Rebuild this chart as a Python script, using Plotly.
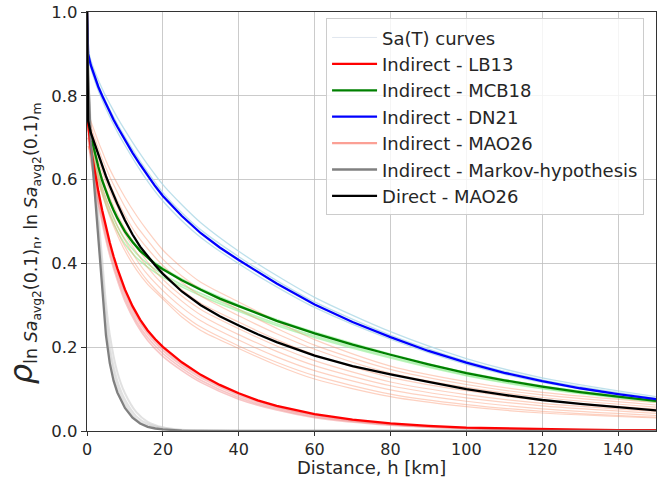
import plotly.graph_objects as go

# Separation distance grid (km) for the model curves
H = [0, 0.3, 1, 2, 3, 4, 5, 6, 7, 8, 10, 12, 14, 16, 18, 20, 25, 30, 35, 40,
     45, 50, 60, 70, 80, 90, 100, 110, 120, 130, 140, 150]

# Correlation models (period-averaged)
LB13 = [1.0, 0.73, 0.675, 0.622, 0.572, 0.527, 0.486, 0.45, 0.417, 0.388, 0.338, 0.298,
        0.266, 0.24, 0.219, 0.201, 0.164, 0.134, 0.11, 0.09, 0.073, 0.06, 0.04,
        0.027, 0.018, 0.012, 0.008, 0.006, 0.004, 0.003, 0.002, 0.002]
MCB18 = [1.0, 0.75, 0.705, 0.665, 0.63, 0.598, 0.572, 0.548, 0.527, 0.508, 0.476, 0.451,
         0.43, 0.413, 0.398, 0.386, 0.36, 0.337, 0.316, 0.298, 0.28, 0.263, 0.233,
         0.206, 0.182, 0.159, 0.138, 0.121, 0.106, 0.093, 0.082, 0.072]
DN21 = [1.0, 0.90, 0.873, 0.845, 0.821, 0.80, 0.78, 0.761, 0.743, 0.726, 0.694, 0.664,
        0.636, 0.609, 0.584, 0.561, 0.513, 0.472, 0.438, 0.408, 0.379, 0.352, 0.302,
        0.26, 0.224, 0.191, 0.163, 0.139, 0.119, 0.102, 0.088, 0.076]
MARKOV = [1.0, 0.85, 0.69, 0.57, 0.455, 0.34, 0.228, 0.162, 0.12, 0.092, 0.055, 0.032,
          0.018, 0.010, 0.006, 0.004, 0.001, 0, 0, 0, 0, 0, 0, 0, 0, 0, 0, 0, 0, 0, 0, 0]
DIRECT_MAO26 = [1.0, 0.74, 0.712, 0.685, 0.659, 0.633, 0.608, 0.585, 0.563, 0.542, 0.503,
                0.469, 0.44, 0.417, 0.395, 0.375, 0.333, 0.30, 0.274, 0.252, 0.231, 0.212,
                0.18, 0.155, 0.135, 0.117, 0.100, 0.086, 0.074, 0.065, 0.057, 0.049]

# Distance grid for the individual Sa(T) curves
H_SA = [0.3, 1, 2, 3, 4, 5, 6, 8, 10, 13, 16, 20, 25, 30, 40, 50, 60, 80, 100, 120, 150]

SA_DN21 = [
    [0.91, 0.885, 0.859, 0.837, 0.817, 0.798, 0.781, 0.748, 0.718, 0.675, 0.636, 0.588,
     0.54, 0.497, 0.429, 0.371, 0.319, 0.237, 0.173, 0.127, 0.082],
    [0.90, 0.876, 0.849, 0.826, 0.805, 0.786, 0.767, 0.733, 0.702, 0.658, 0.618, 0.569,
     0.521, 0.48, 0.416, 0.359, 0.308, 0.229, 0.167, 0.122, 0.078],
    [0.895, 0.866, 0.837, 0.812, 0.79, 0.769, 0.75, 0.714, 0.682, 0.637, 0.596, 0.549,
     0.502, 0.462, 0.399, 0.344, 0.295, 0.219, 0.159, 0.116, 0.074],
]
SA_MCB18 = [
    [0.74, 0.69, 0.648, 0.612, 0.58, 0.553, 0.529, 0.489, 0.458, 0.424, 0.399, 0.374, 0.349,
     0.328, 0.29, 0.256, 0.227, 0.177, 0.134, 0.103, 0.07],
    [0.73, 0.682, 0.638, 0.601, 0.568, 0.54, 0.516, 0.477, 0.446, 0.414, 0.391, 0.367,
     0.344, 0.323, 0.286, 0.252, 0.223, 0.174, 0.132, 0.101, 0.069],
    [0.755, 0.71, 0.668, 0.633, 0.601, 0.575, 0.551, 0.511, 0.479, 0.443, 0.416, 0.389,
     0.363, 0.34, 0.301, 0.266, 0.236, 0.184, 0.14, 0.108, 0.073],
]
SA_LB13 = [
    [0.72, 0.663, 0.61, 0.56, 0.515, 0.474, 0.438, 0.377, 0.327, 0.271, 0.231, 0.192, 0.156,
     0.127, 0.085, 0.056, 0.037, 0.016, 0.007, 0.003, 0.001],
    [0.71, 0.654, 0.601, 0.55, 0.505, 0.464, 0.428, 0.368, 0.318, 0.263, 0.223, 0.185, 0.15,
     0.121, 0.08, 0.053, 0.034, 0.015, 0.006, 0.003, 0.001],
    [0.725, 0.669, 0.617, 0.567, 0.522, 0.481, 0.445, 0.383, 0.333, 0.277, 0.236, 0.197,
     0.16, 0.131, 0.088, 0.058, 0.038, 0.017, 0.007, 0.004, 0.002],
    [0.70, 0.645, 0.592, 0.541, 0.496, 0.455, 0.419, 0.36, 0.31, 0.256, 0.216, 0.178, 0.144,
     0.116, 0.076, 0.05, 0.032, 0.014, 0.006, 0.003, 0.001],
]
SA_MARKOV = [
    [0.86, 0.71, 0.60, 0.49, 0.38, 0.275, 0.20, 0.12, 0.075, 0.035, 0.017, 0.007, 0.002,
     0.001, 0, 0, 0, 0, 0, 0, 0],
    [0.87, 0.73, 0.62, 0.515, 0.41, 0.305, 0.23, 0.14, 0.09, 0.045, 0.022, 0.009, 0.003,
     0.001, 0, 0, 0, 0, 0, 0, 0],
    [0.85, 0.70, 0.585, 0.47, 0.36, 0.25, 0.182, 0.106, 0.065, 0.028, 0.013, 0.005, 0.001,
     0, 0, 0, 0, 0, 0, 0, 0],
]
INDIRECT_MAO26 = [
    [0.76, 0.74, 0.715, 0.69, 0.668, 0.645, 0.625, 0.59, 0.558, 0.515, 0.477, 0.432, 0.39,
     0.355, 0.308, 0.262, 0.218, 0.155, 0.118, 0.092, 0.068],
    [0.75, 0.73, 0.70, 0.675, 0.65, 0.628, 0.607, 0.57, 0.535, 0.49, 0.455, 0.41, 0.37,
     0.338, 0.29, 0.245, 0.205, 0.147, 0.111, 0.086, 0.062],
    [0.74, 0.72, 0.69, 0.66, 0.635, 0.61, 0.59, 0.55, 0.515, 0.47, 0.435, 0.395, 0.355,
     0.322, 0.275, 0.232, 0.195, 0.138, 0.104, 0.08, 0.057],
    [0.72, 0.70, 0.67, 0.645, 0.62, 0.595, 0.573, 0.535, 0.50, 0.455, 0.418, 0.378, 0.337,
     0.305, 0.26, 0.218, 0.182, 0.128, 0.096, 0.073, 0.052],
    [0.72, 0.69, 0.66, 0.63, 0.605, 0.58, 0.558, 0.518, 0.483, 0.44, 0.403, 0.362, 0.322,
     0.29, 0.244, 0.203, 0.168, 0.117, 0.087, 0.066, 0.047],
    [0.70, 0.68, 0.65, 0.62, 0.593, 0.568, 0.545, 0.505, 0.47, 0.427, 0.39, 0.35, 0.31,
     0.277, 0.23, 0.19, 0.156, 0.108, 0.079, 0.06, 0.042],
    [0.70, 0.67, 0.64, 0.61, 0.582, 0.556, 0.532, 0.49, 0.455, 0.41, 0.373, 0.335, 0.295,
     0.263, 0.217, 0.177, 0.144, 0.098, 0.071, 0.053, 0.037],
    [0.68, 0.66, 0.63, 0.60, 0.572, 0.546, 0.52, 0.477, 0.44, 0.395, 0.358, 0.32, 0.28,
     0.248, 0.203, 0.164, 0.132, 0.088, 0.063, 0.047, 0.033],
    [0.68, 0.66, 0.625, 0.593, 0.565, 0.538, 0.512, 0.468, 0.43, 0.385, 0.35, 0.315, 0.272,
     0.24, 0.197, 0.157, 0.124, 0.082, 0.058, 0.043, 0.031],
]

X_TICKS = [0, 20, 40, 60, 80, 100, 120, 140]
Y_TICKS = [0.0, 0.2, 0.4, 0.6, 0.8, 1.0]

FONT = "DejaVu Sans"
fig = go.Figure()


def thin(xs, ys, color, width=1.2):
    fig.add_trace(go.Scatter(x=xs, y=ys, mode="lines", showlegend=False, hoverinfo="skip",
                             line=dict(color=color, width=width, shape="spline",
                                       smoothing=0.8)))


# individual Sa(T) curves behind the model curves
for ys in SA_MARKOV:
    thin(H_SA, ys, "rgba(200,200,200,0.55)", 2.0)
for ys in SA_LB13:
    thin(H_SA, ys, "rgba(240,128,128,0.45)", 1.6)
for ys in SA_MCB18:
    thin(H_SA, ys, "rgba(144,238,144,0.6)", 1.6)
for ys in SA_DN21:
    thin(H_SA, ys, "rgba(173,216,230,0.8)", 1.3)
for ys in INDIRECT_MAO26:
    thin(H_SA, ys, "rgba(250,140,100,0.4)", 1.2)

# legend-only entries for the thin curves
fig.add_trace(go.Scatter(x=[None], y=[None], mode="lines", name="Sa(T) curves",
                         line=dict(color="rgba(200,212,225,0.55)", width=1), legendrank=1))
fig.add_trace(go.Scatter(x=[None], y=[None], mode="lines", name="Indirect - MAO26",
                         line=dict(color="rgba(250,128,114,0.75)", width=2.4), legendrank=5))


def main(ys, color, name, rank):
    fig.add_trace(go.Scatter(x=H, y=ys, mode="lines", name=name, legendrank=rank,
                             line=dict(color=color, width=2.3)))


main(LB13, "#ff0000", "Indirect - LB13", 2)
main(MCB18, "#008000", "Indirect - MCB18", 3)
main(DN21, "#0000ff", "Indirect - DN21", 4)
main(MARKOV, "#808080", "Indirect - Markov-hypothesis", 6)
main(DIRECT_MAO26, "#000000", "Direct - MAO26", 7)

axis_common = dict(showgrid=True, gridcolor="rgba(190,190,190,0.8)", gridwidth=1,
                   showline=True, linecolor="#333333", linewidth=1.3, mirror=True,
                   ticks="outside", ticklen=5, tickwidth=1.2, tickcolor="#333333",
                   tickfont=dict(family=FONT, size=16.5, color="#262626"), zeroline=False)

Y_LABEL = ('<span style="font-size:32px"><i>ρ</i></span>'
           '<sub>ln <i>Sa</i><sub>avg2</sub>(0.1)<sub>n</sub>, '
           'ln <i>Sa</i><sub>avg2</sub>(0.1)<sub>m</sub></sub>')

fig.update_layout(
    width=657, height=480,
    margin=dict(l=87, r=1, t=12, b=49),
    paper_bgcolor="white", plot_bgcolor="white",
    font=dict(family=FONT, color="#262626"),
    xaxis=dict(range=[0, 150], tickvals=X_TICKS,
               **{**axis_common, "ticklen": 3.5,
                  "tickfont": dict(family=FONT, size=16, color="#262626")}),
    yaxis=dict(range=[0, 1], tickvals=Y_TICKS, tickformat=".1f", **axis_common),
    legend=dict(x=0.979, y=0.985, xanchor="right", yanchor="top",
                bgcolor="rgba(255,255,255,0.8)", bordercolor="#cccccc", borderwidth=1,
                font=dict(family=FONT, size=18, color="#262626"),
                tracegroupgap=0, itemwidth=45),
    annotations=[
        dict(text=Y_LABEL, xref="paper", yref="paper", x=-0.113, y=0.5,
             yshift=-22, xanchor="center", yanchor="middle", textangle=-90,
             showarrow=False, font=dict(family=FONT, size=25, color="#262626")),
        dict(text="Distance, h [km]", xref="paper", yref="paper", x=0.5, y=-49 / 419,
             xanchor="center", yanchor="bottom", showarrow=False,
             font=dict(family=FONT, size=18, color="#262626")),
    ],
    showlegend=True,
)

fig.write_html("out.html")
